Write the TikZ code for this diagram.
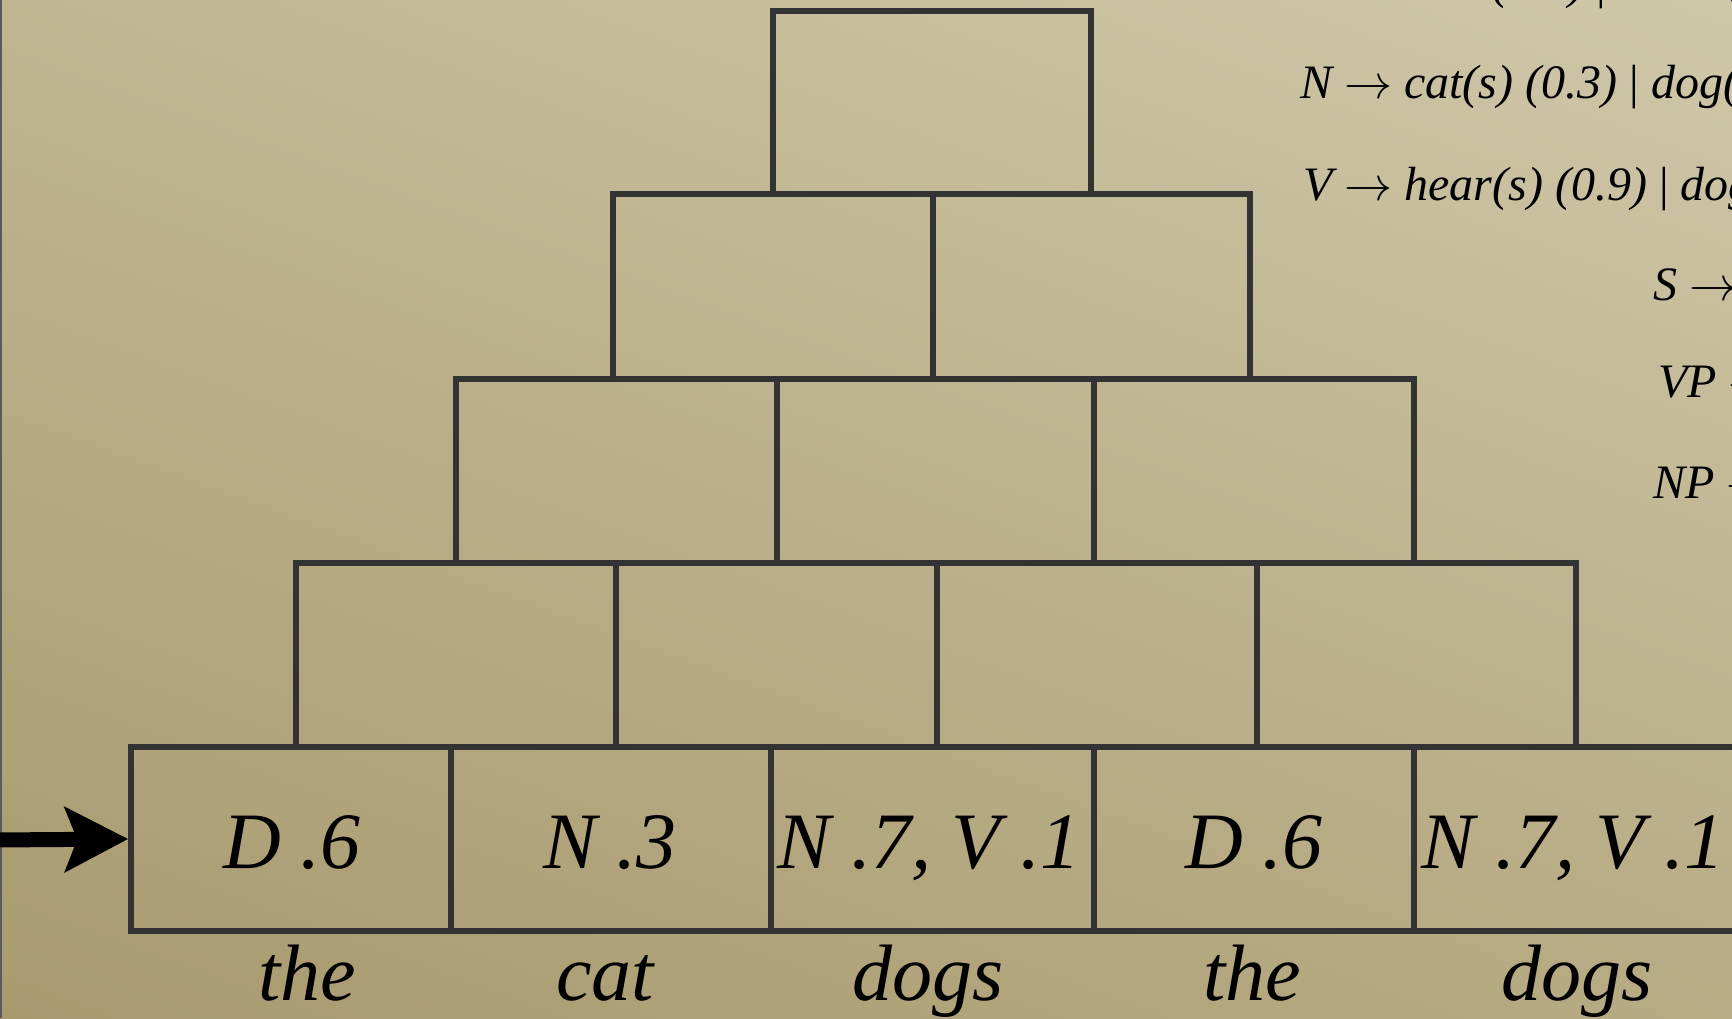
\RequirePackage{fix-cm}
\documentclass[tikz,border=0pt]{standalone}
\usepackage{fontspec}
\setmainfont{Liberation Serif}
\usetikzlibrary{arrows.meta}
\definecolor{gridc}{HTML}{333333}
\definecolor{bgtop}{HTML}{CFC8AA}
\definecolor{bgbot}{HTML}{A8996D}
\definecolor{edgec}{HTML}{5A5A5A}
\newcommand{\cellbox}[5]{%
  \node[cellbox, minimum width={#4-#2}, minimum height={#5-#3}] (#1) at ({(#2+#4)/2},{(#3+#5)/2}) {};}
\newcommand{\ra}{$\rightarrow$}
\begin{document}
\begin{tikzpicture}[x=1pt,y=-1pt,
  cellbox/.style={draw=gridc, line width=5.5pt, inner sep=0pt},
  lab/.style={font=\fontsize{80}{80}\selectfont\itshape, anchor=base, inner sep=0pt},
  rule/.style={font=\fontsize{48}{48}\selectfont\itshape, anchor=base west, inner sep=0pt},
  bigarrow/.style={line width=15pt, -{Stealth[length=63pt, width=64pt, inset=12pt]}}]
\useasboundingbox (0,0) rectangle (1732,1018);
\clip (0,0) rectangle (1732,1018);
\shade[top color=bgtop, bottom color=bgbot, shading angle=-20] (-200,-200) rectangle (1932,1218);
\draw[edgec, line width=2.5pt] (1.2,0) -- (1.2,1018);
% grammar
\node[rule] (g0) at (1315,-2) {D \ra{} the (0.6) {\upshape|} these (0.4)};
\node[rule] (g1) at (1300,98) {N \ra{} cat(s) (0.3) {\upshape|} dog(s) (0.7)};
\node[rule] (g2) at (1303,200) {V \ra{} hear(s) (0.9) {\upshape|} dog(s) (0.1)};
\node[rule] (g3) at (1653,300) {S \ra{} NP VP (1.0)};
\node[rule] (g4) at (1658,397) {VP \ra{} V NP (1.0)};
\node[rule] (g5) at (1653,498) {NP \ra{} D N (1.0)};
% chart rows
\cellbox{r1c1}{773}{11}{1091}{194}
\cellbox{r2c1}{613}{194}{933}{379}
\cellbox{r2c2}{933}{194}{1250}{379}
\cellbox{r3c1}{456}{379}{777}{563}
\cellbox{r3c2}{777}{379}{1094}{563}
\cellbox{r3c3}{1094}{379}{1414}{563}
\cellbox{r4c1}{296}{563}{616}{747}
\cellbox{r4c2}{616}{563}{937}{747}
\cellbox{r4c3}{937}{563}{1257}{747}
\cellbox{r4c4}{1257}{563}{1576}{747}
\cellbox{r5c1}{131}{747}{451}{931}
\cellbox{r5c2}{451}{747}{771}{931}
\cellbox{r5c3}{771}{747}{1094}{931}
\cellbox{r5c4}{1094}{747}{1414}{931}
\cellbox{r5c5}{1414}{747}{1736}{931}
% cell labels
\node[lab] (l1) at (292,868) {D .6};
\node[lab] (l2) at (610,868) {N .3};
\node[lab] (l3) at (929,868) {N .7, V .1};
\node[lab] (l4) at (1254,868) {D .6};
\node[lab] (l5) at (1573,868) {N .7, V .1};
% words
\node[lab] (w1) at (307,1000) {the};
\node[lab] (w2) at (605,1000) {cat};
\node[lab] (w3) at (928,1000) {dogs};
\node[lab] (w4) at (1252,1000) {the};
\node[lab] (w5) at (1577,1000) {dogs};
% arrow
\coordinate (astart) at (-5,840);
\draw[bigarrow] (astart) -- (r5c1.west);
\end{tikzpicture}
\end{document}
